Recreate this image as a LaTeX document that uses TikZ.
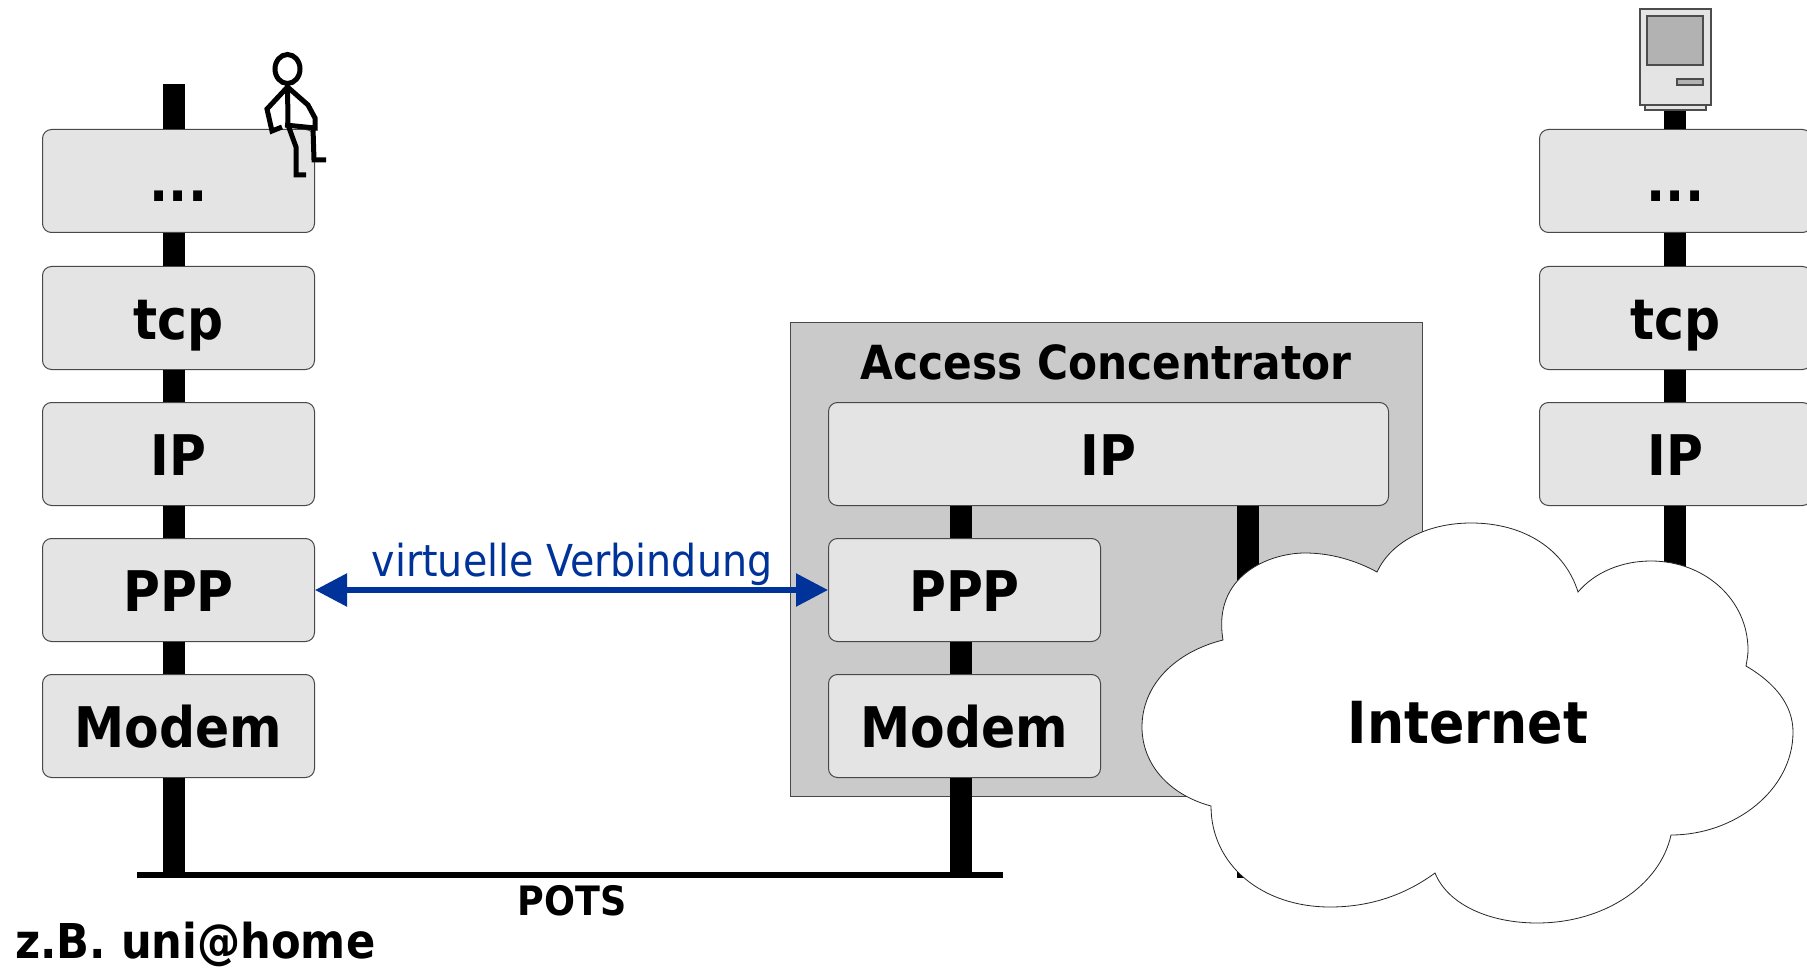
\documentclass[tikz,border=0pt]{standalone}
\usepackage{fontspec}
\setmainfont{DejaVu Sans Condensed}
\usetikzlibrary{arrows.meta}
\definecolor{boxgray}{HTML}{E4E4E4}
\definecolor{acgray}{HTML}{CACACA}
\definecolor{edgegray}{HTML}{484848}
\definecolor{screengray}{HTML}{B2B2B2}
\definecolor{linkblue}{HTML}{003399}
\tikzset{
  layerbox/.style={draw=edgegray,line width=1pt,fill=boxgray,rounded corners=9pt,inner sep=0pt,
    minimum width=272pt,minimum height=103pt,text height=42pt,text depth=0pt,anchor=north west,
    font=\fontsize{56}{56}\selectfont\bfseries},
  stackbar/.style={line width=22pt,black},
  figline/.style={line width=5pt,black},
  pcpart/.style={draw=black!70,line width=1.5pt},
}
\begin{document}
\begin{tikzpicture}[line cap=butt,line join=miter,x=1pt,y=-1pt]
\path[use as bounding box,clip] (0,0) rectangle (1807,968);
% access concentrator
\node[draw=edgegray,line width=1pt,fill=acgray,inner sep=0pt,minimum width=632pt,minimum height=473pt,anchor=north west] (ac) at (790,322.5) {};
\node[font=\fontsize{47}{47}\selectfont\bfseries] (actitle) at (1106,362) {Access Concentrator};
% left stack
\node[layerbox] (ldots) at (42,129) {...};
\node[layerbox] (ltcp) at (42,266) {tcp};
\node[layerbox] (lip) at (42,402) {IP};
\node[layerbox] (lppp) at (42,538) {PPP};
\node[layerbox] (lmodem) at (42,674) {Modem};
% middle stack
\node[layerbox,minimum width=560pt] (mip) at (828,402) {IP};
\node[layerbox] (mppp) at (828,538) {PPP};
\node[layerbox] (mmodem) at (828,674) {Modem};
% right stack
\node[layerbox] (rdots) at (1539,129) {...};
\node[layerbox] (rtcp) at (1539,266) {tcp};
\node[layerbox] (rip) at (1539,402) {IP};
% line
\coordinate (potsl) at (137,875);
\coordinate (potsr) at (1003,875);
\coordinate (ltop) at (174,84);
\coordinate (lbot) at (174,875);
\coordinate (mbot) at (961,875);
\coordinate (itop) at (1248,506);
\coordinate (ibot) at (1248,878);
\coordinate (rtop) at (1675,108);
\coordinate (rbot) at (1675,570);
\draw[stackbar] (ltop) -- (ltop |- ldots.north);
\draw[stackbar] (ltop |- ldots.south) -- (ltop |- ltcp.north);
\draw[stackbar] (ltop |- ltcp.south) -- (ltop |- lip.north);
\draw[stackbar] (ltop |- lip.south) -- (ltop |- lppp.north);
\draw[stackbar] (ltop |- lppp.south) -- (ltop |- lmodem.north);
\draw[stackbar] (ltop |- lmodem.south) -- (lbot);
\draw[stackbar] (mbot |- mip.south) -- (mbot |- mppp.north);
\draw[stackbar] (mbot |- mppp.south) -- (mbot |- mmodem.north);
\draw[stackbar] (mbot |- mmodem.south) -- (mbot);
\draw[stackbar] (itop) -- (ibot);
\draw[stackbar] (rtop) -- (rtop |- rdots.north);
\draw[stackbar] (rtop |- rdots.south) -- (rtop |- rtcp.north);
\draw[stackbar] (rtop |- rtcp.south) -- (rtop |- rip.north);
\draw[stackbar] (rtop |- rip.south) -- (rbot);
\draw[line width=6pt] (potsl) -- (potsr);
\node[font=\fontsize{40.5}{40.5}\selectfont\bfseries] (pots) at (572,901) {POTS};
\node[font=\fontsize{48}{48}\selectfont\bfseries,anchor=base west,inner sep=0pt] (unihome) at (15,958.5) {z.B. uni@home};
% virtual link
\draw[{Triangle[length=32pt,width=32pt]}-{Triangle[length=32pt,width=32pt]},line width=5.5pt,linkblue] (lppp.east) -- (mppp.west);
\node[font=\fontsize{44}{44}\selectfont,text=linkblue,anchor=base,inner sep=0pt] (vlink) at (572,576) {virtuelle Verbindung};
% person
\draw[figline] (287.5,69) ellipse (12.5pt and 14.5pt);
\draw[figline] (287.5,84) -- (288,125);
\draw[figline] (282,127) -- (272,131) -- (267,109) -- (287.5,87) -- (308,105) -- (315,118) -- (315,128) -- (285,125);
\draw[figline] (288,125) -- (296,147) -- (296,175) -- (306,175);
\draw[figline] (313,128) -- (314,160) -- (326,160);
% computer
\draw[pcpart,fill=boxgray] (1645,105) rectangle (1706,110);
\draw[pcpart,fill=boxgray] (1640,9) rectangle (1711,105);
\draw[pcpart,fill=screengray] (1647,16) rectangle (1703,65);
\draw[pcpart,fill=screengray] (1677,79) rectangle (1703,85);
% cloud
\draw[fill=white,line width=0.8pt,draw=black!85] (1223,640)
  .. controls (1212,575) and (1270,553) .. (1305,553)
  .. controls (1330,553) and (1355,560) .. (1377,572)
  .. controls (1392,540) and (1430,523) .. (1471,523)
  .. controls (1525,523) and (1565,550) .. (1578,592)
  .. controls (1595,572) and (1622,561) .. (1651,561)
  .. controls (1705,561) and (1748,600) .. (1748,650)
  .. controls (1748,655) and (1747,660) .. (1746,666)
  .. controls (1775,683) and (1793,705) .. (1793,732)
  .. controls (1793,790) and (1735,835) .. (1671,835)
  .. controls (1660,885) and (1605,923) .. (1537,923)
  .. controls (1490,923) and (1448,905) .. (1435,873)
  .. controls (1405,895) and (1370,907) .. (1330,907)
  .. controls (1262,907) and (1211,865) .. (1211,806)
  .. controls (1170,795) and (1142,765) .. (1142,727)
  .. controls (1142,685) and (1175,652) .. (1223,640) -- cycle;
\node[font=\fontsize{58}{58}\selectfont\bfseries] (inet) at (1468,723) {Internet};
\end{tikzpicture}
\end{document}
